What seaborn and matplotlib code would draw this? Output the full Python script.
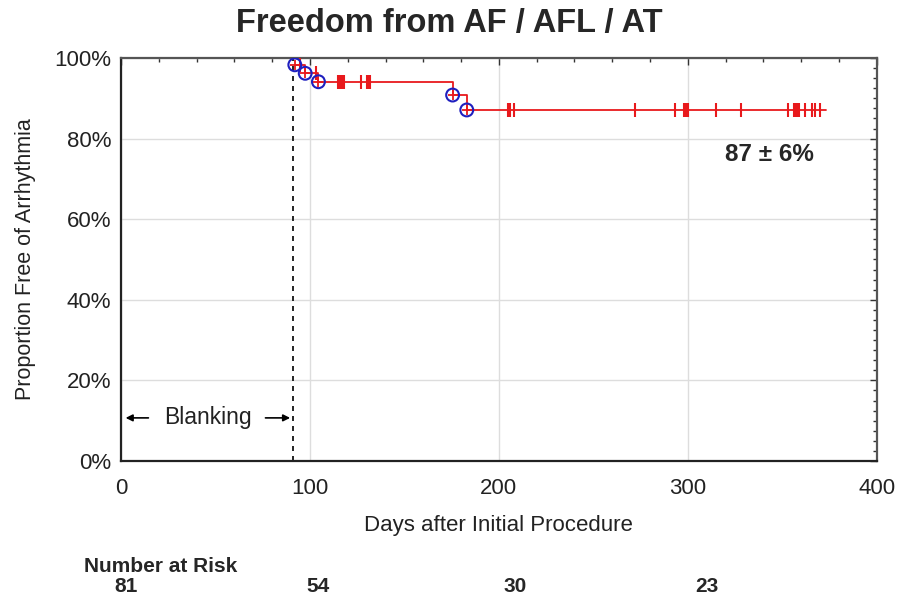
import numpy as np
import pandas as pd
import matplotlib
matplotlib.use("Agg")
import matplotlib.pyplot as plt
from matplotlib.ticker import MultipleLocator, FuncFormatter
import seaborn as sns

# Kaplan-Meier step curve (days, % free)
step_days = [92, 97.5, 104.5, 175.5, 183, 373]
step_surv = [98.3, 96.2, 94.1, 90.8, 87.1, 87.1]

# events (circles)
event_days = [92, 97.5, 104.5, 175.5, 183]
event_surv = [98.3, 96.2, 94.1, 90.8, 87.1]

# censored observations (tick marks)
censor_days = [95, 103, 115, 116, 117, 118, 127, 130, 131, 132,
               205, 206, 208, 272, 293, 298, 299, 300, 315, 328,
               353, 356, 357, 358, 359, 362, 365.5, 367.5, 370]
censor_surv = [98.3, 96.2] + [94.1] * 8 + [87.1] * 19

risk_labels = ["81", "54", "30", "23"]
blanking_day = 91

sns.set_style("white")
plt.rcParams['font.family'] = ['Liberation Sans', 'DejaVu Sans']

fig = plt.figure(figsize=(9.02, 6.07), dpi=100)
ax = fig.add_axes([0.1341, 0.2405, 0.838, 0.664])

curve = pd.DataFrame({"day": step_days, "surv": step_surv})
sns.lineplot(data=curve, x="day", y="surv", drawstyle="steps-post",
             color="#e8191c", lw=1.3, ax=ax, zorder=3)
sns.scatterplot(x=censor_days, y=censor_surv, marker="|", s=100,
                color="#e8191c", linewidth=1.5, ax=ax, zorder=4)
sns.scatterplot(x=event_days, y=event_surv, marker="o", s=85,
                facecolor="none", edgecolor="#1f1fbf", linewidth=1.5, ax=ax, zorder=5)
sns.scatterplot(x=event_days, y=event_surv, marker="+", s=55,
                color="#e8191c", linewidth=1.3, ax=ax, zorder=6)

ax.axvline(blanking_day, color="black", ls=(0, (3, 3)), lw=1.2, zorder=2)

ax.set_xlim(0, 400)
ax.set_ylim(0, 100)
ax.xaxis.set_major_locator(MultipleLocator(100))
ax.xaxis.set_minor_locator(MultipleLocator(20))
ax.yaxis.set_major_locator(MultipleLocator(20))
ax.yaxis.set_minor_locator(MultipleLocator(2.5))
ax.yaxis.set_major_formatter(FuncFormatter(lambda v, p: f"{v:.0f}%"))

ax.grid(True, which="major", color="#dddddd", lw=1)
ax.tick_params(which="major", direction="in", length=5, width=1,
               labelsize=16, color="#333333", labelcolor="#222222",
               top=True, right=True, left=False)
ax.tick_params(axis="x", which="major", pad=12)
ax.tick_params(axis="y", which="major", pad=7)
ax.tick_params(which="minor", direction="in", length=3, width=1,
               color="#333333", top=True, right=True, left=False)
for side in ["left", "bottom"]:
    ax.spines[side].set_color("#222222")
    ax.spines[side].set_linewidth(1.6)
for side in ["top", "right"]:
    ax.spines[side].set_color("#555555")
    ax.spines[side].set_linewidth(1.6)

ax.set_xlabel("Days after Initial Procedure", fontsize=16, color="#222222", labelpad=12)
ax.set_ylabel("Proportion Free of Arrhythmia", fontsize=15.5, color="#222222", labelpad=13)

fig.text(0.498, 0.962, "Freedom from AF / AFL / AT", ha="center", va="center",
         fontsize=23.5, fontweight="bold")
ax.text(343, 76, "87 ± 6%", fontsize=17.5, fontweight="bold", ha="center", va="center")

# Blanking annotation
ax.annotate("", xy=(1, 10.7), xytext=(16, 10.7),
            arrowprops=dict(arrowstyle="-|>", color="black", lw=1.2))
ax.annotate("", xy=(blanking_day, 10.7), xytext=(75, 10.7),
            arrowprops=dict(arrowstyle="-|>", color="black", lw=1.2))
ax.text(46, 10.7, "Blanking", fontsize=16.5, ha="center", va="center", color="#222222")

# Number at risk table
fig.text(0.093, 0.0577, "Number at Risk", fontsize=15, fontweight="bold", va="baseline")
for lab, xp in zip(risk_labels, [0.1397, 0.3525, 0.571, 0.7838]):
    fig.text(xp, 0.0247, lab, fontsize=15, fontweight="bold", ha="center", va="baseline")

fig.savefig("out.png", dpi=100)
